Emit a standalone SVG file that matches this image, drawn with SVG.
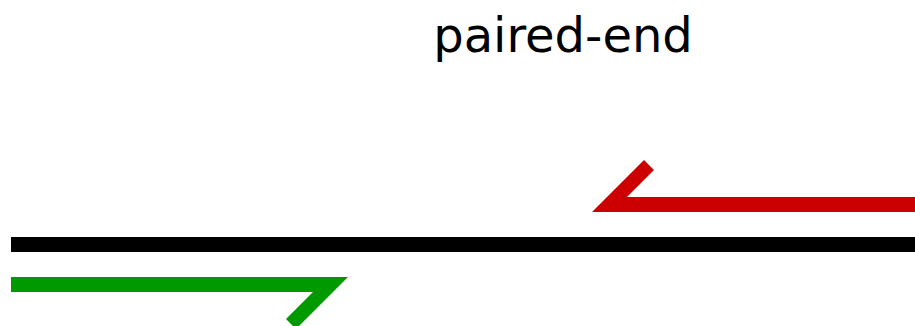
<svg xmlns="http://www.w3.org/2000/svg" width="915" height="326" viewBox="0 0 915 326">
  <style>
    .title { font-family: "DejaVu Sans", Verdana, sans-serif; font-size: 48px; fill: #000000; }
    .ref { fill: #000000; }
    .rev { fill: #cc0000; }
    .fwd { fill: #009900; }
  </style>
  <rect x="0" y="0" width="915" height="326" fill="#ffffff"/>
  <g id="title">
    <text class="title" x="563" y="52" text-anchor="middle">paired-end</text>
  </g>
  <g id="connectors">
    <g id="reference">
      <rect class="ref" x="11" y="237" width="904" height="15"/>
    </g>
    <g id="reverse-read">
      <polygon class="rev" points="915,197 627,197 654,170 644,160 592,212 915,212"/>
    </g>
    <g id="forward-read">
      <polygon class="fwd" points="11,277 348,277 296,329 286,319 313,292 11,292"/>
    </g>
  </g>
</svg>
